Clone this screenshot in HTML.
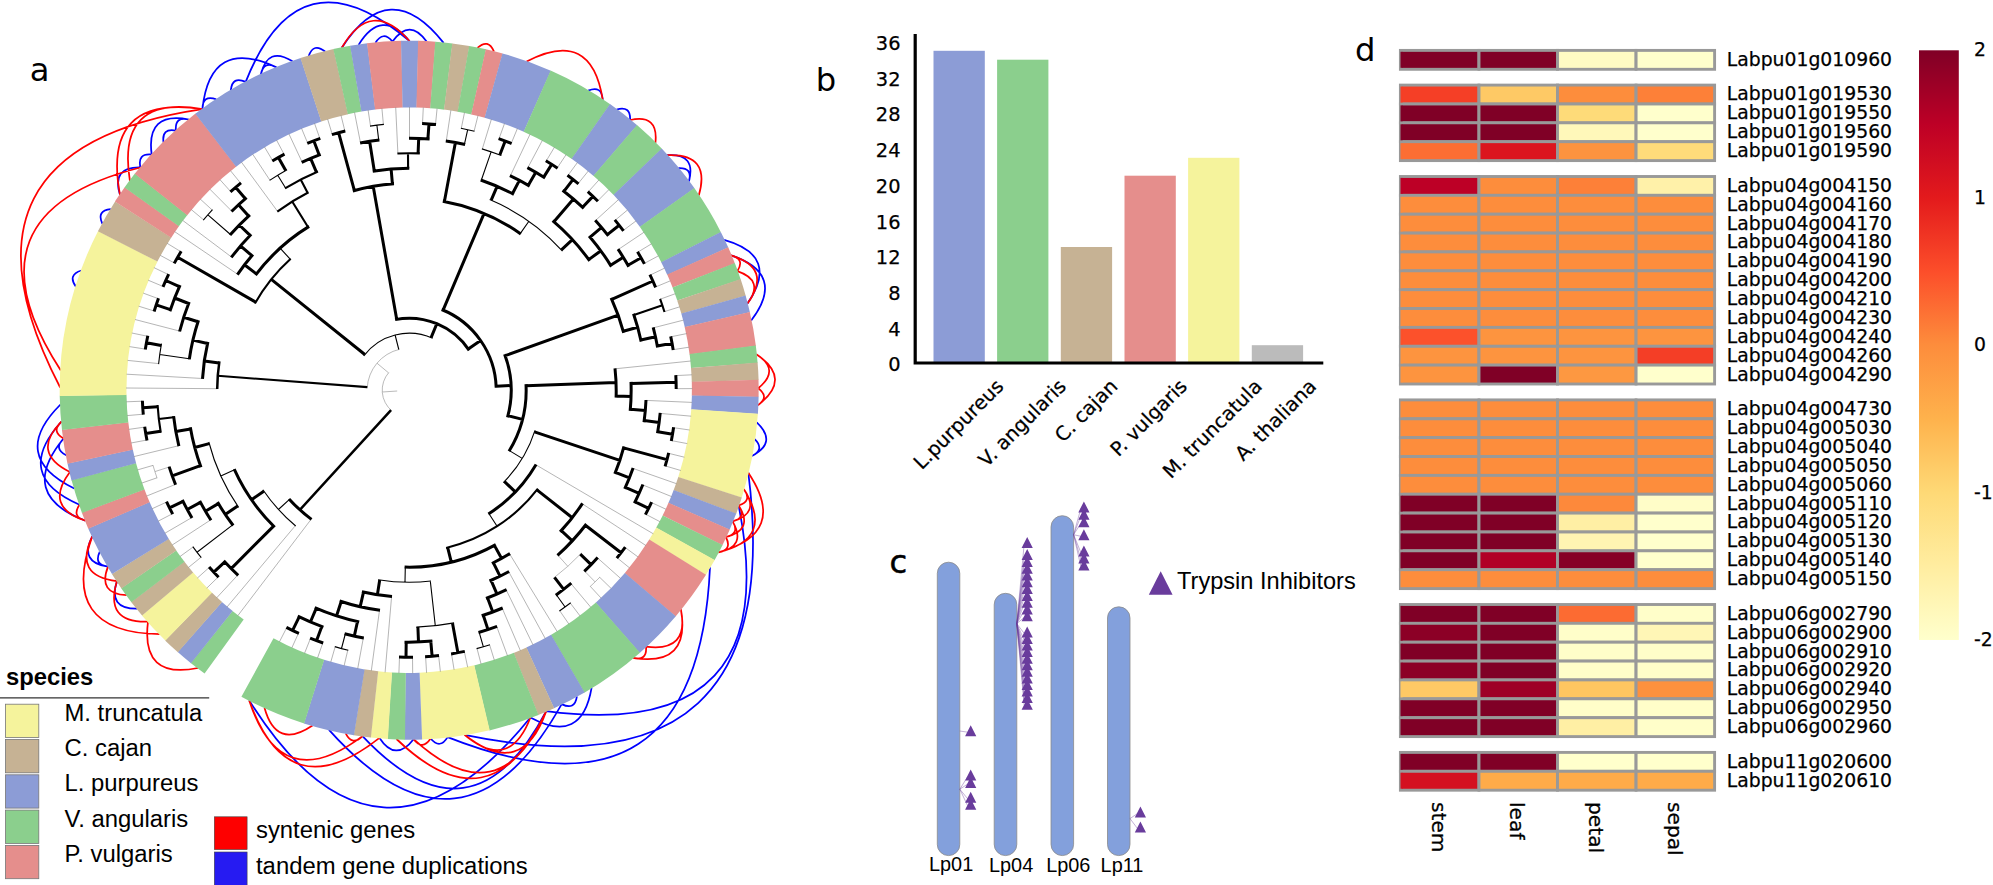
<!DOCTYPE html>
<html lang="en"><head><meta charset="utf-8"><title>Figure</title>
<style>
html,body{margin:0;padding:0;background:#fff;}
body{width:1993px;height:885px;overflow:hidden;}
svg{display:block;}
text{white-space:pre;}
</style></head><body>
<svg width="1993" height="885" viewBox="0 0 1993 885">
<rect width="1993" height="885" fill="#fff"/>
<g fill="none" stroke-width="1.75" stroke-linecap="butt">
<path d="M137.1 608.7Q107.7 608.9 117 581.1M108 566.6Q79 562.5 92.3 536.3M108 566.6Q93.5 564.9 99.8 551.7M60.5 404.5Q8.6 456.2 74.3 488.5M61.6 421.5Q12.3 475.7 79.5 504.7M63.6 438.5Q17 495 85.5 520.7M63.6 438.5Q53.2 448.8 66.3 455.3M75.9 286.7Q67.3 274.8 81.4 270.5M102.4 223.9Q96.2 210.6 110.8 209.1M120 194.8Q111.2 166.8 140.5 167.5M140.5 167.5Q137.1 153.2 151.7 154.6M151.7 154.6Q145.7 111.1 188.9 119.5M163.5 142.3Q161.5 127.8 175.9 130.6M175.9 130.6Q174.6 116 188.9 119.5M202.4 109.1Q202.5 94.4 216.3 99.3M202.4 109.1Q210.3 36.3 276.5 67.4M230.8 90.2Q232.4 75.7 245.7 81.9M245.7 81.9Q299.1 -53.2 409.6 41.2M260.9 74.3Q263.9 59.9 276.5 67.4M260.9 74.3Q267.6 45.7 292.5 61.3M308.7 56Q313.7 42.2 325.1 51.5M341.8 47.8Q389.3 -26 443.6 42.9M358.6 44.9Q381.5 7.3 409.6 41.2M375.5 42.8Q383.1 30.3 392.5 41.6M392.5 41.6Q409.6 17.7 426.6 41.6M588.2 90.6Q601.8 85.1 602.7 99.7M616.6 109.5Q630.7 105.3 630.1 120M667.2 155.2Q696.5 153.1 688.9 181.5M678.4 168.1Q693 167.4 688.9 181.5M724.1 239.8Q780.6 255.6 747.3 303.8M731.1 255.4Q786.7 273.9 751.2 320.5M756.7 422.3Q778 442.5 751.9 456M754.7 439.2Q765.1 449.6 751.9 456M748.3 472.7Q789.9 802.4 464.5 734.8M738.6 505.4Q786.5 743 546.2 711.2M710 567.2Q697.7 835.8 447.6 737.1M591.6 687.7Q581.9 745.5 530.4 717.5M576.9 696.3Q574.8 710.8 561.7 704.1M530.4 717.5Q377.8 905.8 249.2 700.4M561.7 704.1Q463.4 879.9 329 729.9M546.2 711.2Q471.8 852.2 362.5 736.1M413.6 739.2Q395.6 762.4 379.5 737.9M447.6 737.1Q440.1 749.7 430.6 738.5" stroke="#0000ff"/>
<path d="M198 668Q140.6 679.8 148 621.7M159.7 634.2Q57.5 632.5 92.3 536.3M148 621.7Q104.1 623.1 117 581.1M126.7 595.1Q97.4 593.9 108 566.6M117 581.1Q73.3 576 92.3 536.3M61.6 421.5Q30.5 452.6 69.9 472M61.6 421.5Q50.7 431.4 63.6 438.5M69.9 472Q43.6 507.3 85.5 520.7M79.5 504.7Q71.3 516.9 85.5 520.7M60.2 387.5Q-63.6 148.8 202.4 109.1M60.8 370.4Q-41.4 213.1 140.5 167.5M202.4 109.1Q101.2 94.3 120 194.8M202.4 109.1Q115.9 94.3 129.9 180.9M341.8 47.8Q371.1 -3 409.6 41.2M477.4 47.9Q488.3 38.1 494 51.7M526.6 61.6Q591.4 27.4 602.7 99.7M630.1 120Q658.7 113.7 655.4 142.8M667.2 155.2Q711.1 153.2 698.8 195.4M731.1 255.4Q773.2 268.2 747.3 303.8M731.1 255.4Q745.3 259 737.3 271.2M737.3 271.2Q765.1 280.5 747.3 303.8M756.3 354.2Q792.9 378.6 757.9 405.3M756.3 354.2Q781.1 369.9 758.2 388.2M758.2 388.2Q770 397 757.9 405.3M748.3 472.7Q789 533.5 718.3 552.3M743.9 489.2Q775.3 538.7 718.3 552.3M743.9 489.2Q760.8 513.2 732.6 521.4M738.6 505.4Q754.3 530.2 725.8 537M732.6 521.4Q747.1 546.9 718.3 552.3M743.9 489.2Q752.6 501 738.6 505.4M738.6 505.4Q746.8 517.6 732.6 521.4M732.6 521.4Q740.2 533.9 725.8 537M725.8 537Q732.7 549.9 718.3 552.3M680.9 609.3Q689.6 652.4 646 646.6M680.9 609.3Q691 667 633.2 657.9M646 646.6Q647.4 661.2 633.2 657.9M464.5 734.8Q509.5 772.3 530.4 717.5M464.5 734.8Q521.9 780.2 546.2 711.2M413.6 739.2Q499.5 818 546.2 711.2M396.5 739Q490.8 829.9 546.2 711.2M430.6 738.5Q422.5 750.8 413.6 739.2M249.2 700.4Q288 810.3 379.5 737.9M249.2 700.4Q280.9 797.5 362.5 736.1M264.5 707.8Q276.1 750.2 312.5 725.5M362.5 736.1Q352.2 746.5 345.7 733.4" stroke="#ff0000"/>
</g>
<path d="M204.6 673.5A349.5 349.5 0 0 1 190.7 663L232.5 610.9A282.7 282.7 0 0 0 243.7 619.4Z" fill="#8bcf8d"/>
<path d="M191 663.2A349.5 349.5 0 0 1 177.7 652L221.9 602A282.7 282.7 0 0 0 232.7 611Z" fill="#8c9cd6"/>
<path d="M177.9 652.2A349.5 349.5 0 0 1 165.1 640.4L211.8 592.6A282.7 282.7 0 0 0 222.1 602.1Z" fill="#c6b294"/>
<path d="M165.4 640.6A349.5 349.5 0 0 1 141.9 615.4L193 572.3A282.7 282.7 0 0 0 212 592.7Z" fill="#f5f39c"/>
<path d="M142.1 615.6A349.5 349.5 0 0 1 131.2 602L184.3 561.5A282.7 282.7 0 0 0 193.1 572.5Z" fill="#c6b294"/>
<path d="M131.4 602.3A349.5 349.5 0 0 1 121.2 588.2L176.2 550.4A282.7 282.7 0 0 0 184.5 561.7Z" fill="#8bcf8d"/>
<path d="M121.4 588.4A349.5 349.5 0 0 1 111.9 573.9L168.7 538.8A282.7 282.7 0 0 0 176.4 550.6Z" fill="#c6b294"/>
<path d="M112 574.1A349.5 349.5 0 0 1 88.2 528.5L149.6 502A282.7 282.7 0 0 0 168.8 539Z" fill="#8c9cd6"/>
<path d="M88.3 528.8A349.5 349.5 0 0 1 81.8 512.6L144.4 489.2A282.7 282.7 0 0 0 149.7 502.3Z" fill="#e58e8c"/>
<path d="M82 512.9A349.5 349.5 0 0 1 71.5 480.1L136 462.9A282.7 282.7 0 0 0 144.5 489.5Z" fill="#8bcf8d"/>
<path d="M71.5 480.4A349.5 349.5 0 0 1 67.5 463.5L132.8 449.5A282.7 282.7 0 0 0 136.1 463.2Z" fill="#8c9cd6"/>
<path d="M67.5 463.8A349.5 349.5 0 0 1 61.9 429.8L128.3 422.2A282.7 282.7 0 0 0 132.8 449.7Z" fill="#e58e8c"/>
<path d="M62 430.1A349.5 349.5 0 0 1 59.7 395.7L126.5 394.7A282.7 282.7 0 0 0 128.3 422.5Z" fill="#8bcf8d"/>
<path d="M59.7 396A349.5 349.5 0 0 1 98.1 231L157.5 261.4A282.7 282.7 0 0 0 126.5 394.9Z" fill="#f5f39c"/>
<path d="M97.9 231.3A349.5 349.5 0 0 1 115.1 201.4L171.3 237.5A282.7 282.7 0 0 0 157.4 261.6Z" fill="#c6b294"/>
<path d="M114.9 201.6A349.5 349.5 0 0 1 124.7 187.2L179.1 226A282.7 282.7 0 0 0 171.2 237.7Z" fill="#e58e8c"/>
<path d="M124.5 187.5A349.5 349.5 0 0 1 134.9 173.6L187.4 215A282.7 282.7 0 0 0 178.9 226.2Z" fill="#8bcf8d"/>
<path d="M134.7 173.8A349.5 349.5 0 0 1 195.5 113.6L236.3 166.5A282.7 282.7 0 0 0 187.2 215.2Z" fill="#e58e8c"/>
<path d="M195.3 113.8A349.5 349.5 0 0 1 300.7 58L321.4 121.5A282.7 282.7 0 0 0 236.1 166.7Z" fill="#8c9cd6"/>
<path d="M300.4 58.1A349.5 349.5 0 0 1 333.6 49L348.1 114.2A282.7 282.7 0 0 0 321.2 121.6Z" fill="#c6b294"/>
<path d="M333.3 49A349.5 349.5 0 0 1 350.4 45.7L361.6 111.5A282.7 282.7 0 0 0 347.8 114.2Z" fill="#8bcf8d"/>
<path d="M350.1 45.7A349.5 349.5 0 0 1 367.3 43.2L375.3 109.5A282.7 282.7 0 0 0 361.4 111.6Z" fill="#8c9cd6"/>
<path d="M367 43.3A349.5 349.5 0 0 1 401.3 40.8L402.8 107.6A282.7 282.7 0 0 0 375 109.6Z" fill="#e58e8c"/>
<path d="M401 40.8A349.5 349.5 0 0 1 418.4 40.8L416.7 107.6A282.7 282.7 0 0 0 402.6 107.6Z" fill="#8c9cd6"/>
<path d="M418.1 40.8A349.5 349.5 0 0 1 435.5 41.7L430.5 108.3A282.7 282.7 0 0 0 416.4 107.6Z" fill="#e58e8c"/>
<path d="M435.2 41.7A349.5 349.5 0 0 1 452.5 43.4L444.2 109.7A282.7 282.7 0 0 0 430.2 108.3Z" fill="#8bcf8d"/>
<path d="M452.2 43.4A349.5 349.5 0 0 1 469.4 45.9L457.9 111.7A282.7 282.7 0 0 0 444 109.6Z" fill="#c6b294"/>
<path d="M469.1 45.9A349.5 349.5 0 0 1 486.1 49.3L471.4 114.4A282.7 282.7 0 0 0 457.6 111.7Z" fill="#8bcf8d"/>
<path d="M485.8 49.2A349.5 349.5 0 0 1 502.7 53.4L484.8 117.8A282.7 282.7 0 0 0 471.2 114.4Z" fill="#e58e8c"/>
<path d="M502.4 53.4A349.5 349.5 0 0 1 550.9 70.7L523.8 131.8A282.7 282.7 0 0 0 484.6 117.7Z" fill="#8c9cd6"/>
<path d="M550.6 70.6A349.5 349.5 0 0 1 610.2 104.3L571.8 159A282.7 282.7 0 0 0 523.6 131.7Z" fill="#8bcf8d"/>
<path d="M610 104.1A349.5 349.5 0 0 1 637.2 125.3L593.6 175.9A282.7 282.7 0 0 0 571.6 158.8Z" fill="#8c9cd6"/>
<path d="M637 125.1A349.5 349.5 0 0 1 661.9 148.8L613.6 194.9A282.7 282.7 0 0 0 593.4 175.8Z" fill="#8bcf8d"/>
<path d="M661.7 148.6A349.5 349.5 0 0 1 694.5 188.3L640 226.9A282.7 282.7 0 0 0 613.5 194.8Z" fill="#8c9cd6"/>
<path d="M694.3 188.1A349.5 349.5 0 0 1 720.9 232.2L661.4 262.4A282.7 282.7 0 0 0 639.8 226.7Z" fill="#8bcf8d"/>
<path d="M720.8 231.9A349.5 349.5 0 0 1 728.3 247.6L667.3 274.9A282.7 282.7 0 0 0 661.2 262.2Z" fill="#8c9cd6"/>
<path d="M728.2 247.3A349.5 349.5 0 0 1 734.9 263.4L672.6 287.6A282.7 282.7 0 0 0 667.2 274.6Z" fill="#e58e8c"/>
<path d="M734.8 263.1A349.5 349.5 0 0 1 740.7 279.4L677.3 300.6A282.7 282.7 0 0 0 672.5 287.4Z" fill="#8bcf8d"/>
<path d="M740.6 279.1A349.5 349.5 0 0 1 745.7 295.7L681.4 313.8A282.7 282.7 0 0 0 677.2 300.4Z" fill="#c6b294"/>
<path d="M745.6 295.5A349.5 349.5 0 0 1 749.9 312.3L684.8 327.2A282.7 282.7 0 0 0 681.3 313.6Z" fill="#8c9cd6"/>
<path d="M749.8 312A349.5 349.5 0 0 1 755.9 345.9L689.6 354.4A282.7 282.7 0 0 0 684.7 326.9Z" fill="#e58e8c"/>
<path d="M755.8 345.6A349.5 349.5 0 0 1 757.6 362.9L691 368.1A282.7 282.7 0 0 0 689.6 354.1Z" fill="#8bcf8d"/>
<path d="M757.6 362.6A349.5 349.5 0 0 1 758.6 380L691.8 381.9A282.7 282.7 0 0 0 691 367.9Z" fill="#c6b294"/>
<path d="M758.5 379.7A349.5 349.5 0 0 1 758.6 397.1L691.8 395.7A282.7 282.7 0 0 0 691.8 381.7Z" fill="#e58e8c"/>
<path d="M758.6 396.7A349.5 349.5 0 0 1 757.9 414.1L691.2 409.5A282.7 282.7 0 0 0 691.9 395.5Z" fill="#8c9cd6"/>
<path d="M757.9 413.8A349.5 349.5 0 0 1 741.7 497.8L678.2 477.2A282.7 282.7 0 0 0 691.3 409.3Z" fill="#f5f39c"/>
<path d="M741.8 497.5A349.5 349.5 0 0 1 736.1 513.9L673.6 490.2A282.7 282.7 0 0 0 678.3 477Z" fill="#c6b294"/>
<path d="M736.2 513.6A349.5 349.5 0 0 1 729.6 529.7L668.4 503A282.7 282.7 0 0 0 673.7 490Z" fill="#8c9cd6"/>
<path d="M729.8 529.4A349.5 349.5 0 0 1 722.4 545.2L662.6 515.6A282.7 282.7 0 0 0 668.5 502.8Z" fill="#e58e8c"/>
<path d="M722.6 544.9A349.5 349.5 0 0 1 714.5 560.3L656.1 527.8A282.7 282.7 0 0 0 662.7 515.4Z" fill="#8bcf8d"/>
<path d="M714.7 560.1A349.5 349.5 0 0 1 705.8 575L649.1 539.7A282.7 282.7 0 0 0 656.3 527.6Z" fill="#f5f39c"/>
<path d="M706 574.8A349.5 349.5 0 0 1 675.6 616.4L624.7 573.2A282.7 282.7 0 0 0 649.3 539.5Z" fill="#e58e8c"/>
<path d="M675.8 616.2A349.5 349.5 0 0 1 639.7 652.9L595.7 602.7A282.7 282.7 0 0 0 624.9 573Z" fill="#8c9cd6"/>
<path d="M640 652.7A349.5 349.5 0 0 1 584.3 692.7L550.8 634.9A282.7 282.7 0 0 0 595.9 602.5Z" fill="#8bcf8d"/>
<path d="M584.6 692.5A349.5 349.5 0 0 1 554 708.3L526.3 647.5A282.7 282.7 0 0 0 551.1 634.7Z" fill="#8c9cd6"/>
<path d="M554.2 708.2A349.5 349.5 0 0 1 538.2 715L513.6 652.9A282.7 282.7 0 0 0 526.5 647.4Z" fill="#c6b294"/>
<path d="M538.5 714.9A349.5 349.5 0 0 1 489.4 730.4L474.1 665.4A282.7 282.7 0 0 0 513.8 652.8Z" fill="#8bcf8d"/>
<path d="M489.7 730.3A349.5 349.5 0 0 1 421.8 739.5L419.4 672.7A282.7 282.7 0 0 0 474.3 665.3Z" fill="#f5f39c"/>
<path d="M422.1 739.5A349.5 349.5 0 0 1 404.7 739.7L405.6 672.9A282.7 282.7 0 0 0 419.6 672.7Z" fill="#8c9cd6"/>
<path d="M405 739.7A349.5 349.5 0 0 1 387.6 739L391.8 672.4A282.7 282.7 0 0 0 405.8 672.9Z" fill="#8bcf8d"/>
<path d="M387.9 739.1A349.5 349.5 0 0 1 370.6 737.6L378 671.2A282.7 282.7 0 0 0 392 672.4Z" fill="#f5f39c"/>
<path d="M370.9 737.6A349.5 349.5 0 0 1 353.7 735.3L364.3 669.3A282.7 282.7 0 0 0 378.2 671.2Z" fill="#c6b294"/>
<path d="M354 735.3A349.5 349.5 0 0 1 303.9 723.5L324 659.8A282.7 282.7 0 0 0 364.6 669.4Z" fill="#8c9cd6"/>
<path d="M304.2 723.5A349.5 349.5 0 0 1 241.4 696.8L273.5 638.2A282.7 282.7 0 0 0 324.2 659.8Z" fill="#8bcf8d"/>
<g fill="none" stroke-linecap="butt">
<path d="M311.2 519.2L237.8 615.7M295.3 525.7L227 607M237.8 575L216.6 597.9M218.3 576.9L206.7 588.2M209.4 567.3L197.3 578.1M201 557.3L188.4 567.5M193.1 547L180 556.5M210.8 519.8L172.1 545.1M191.8 517.6L164.8 533.3M172.5 513.7L158.1 521.2M166.7 502L152 508.8M175.5 484.4L146.5 496.1M157 477.8L141.7 483.1M153 465.4L137.5 469.9M178.8 445.7L133.9 456.6M146.9 440L131 443M144.8 427.1L128.7 429.4M143.3 414.2L127.1 415.6M142.4 401.2L126.2 401.8M217.2 388.7L126 388M202.5 378.5L126.5 374.2M158.6 363.6L127.6 360.4M145.4 349.1L129.4 346.6M147.7 336.3L131.8 333M179.7 331.1L135 319.5M154.2 311L138.7 306.2M158.4 298.7L143.2 293.1M163.2 286.5L148.2 280.2M168.5 274.6L153.9 267.6M174.4 263L160.2 255.3M180.9 251.7L167.1 243.3M237.7 274.3L174.6 231.6M231.6 257.1L182.6 220.3M203.6 219.8L191.2 209.5M212.2 210L200.2 199M231.8 211.2L209.8 189.1M230.7 191.6L219.9 179.6M240.6 183.1L230.4 170.6M277.6 211.4L241.4 162.1M269.9 180.2L252.7 154.2M272.7 160.7L264.4 146.8M284.1 154.3L276.5 140M302.1 162.1L288.9 133.8M307.7 143.2L301.5 128.3M319.9 138.6L314.5 123.3M332.3 134.5L327.6 119M344.9 131.1L341 115.3M360.5 142.9L354.5 112.3M370.5 126L368.1 110M383.4 124.4L381.9 108.3M397.9 153.5L395.7 107.3M409.5 138.2L409.5 107M422.5 123.5L423.3 107.4M435.5 124.5L437.1 108.4M446.3 140.9L450.9 110.1M461.3 128.3L464.5 112.5M474.1 131.2L478 115.5M482.3 149L491.4 119.2M499 138.8L504.5 123.5M511.2 143.5L517.4 128.5M510.3 175.9L530.1 134.1M527.8 167.8L542.4 140.3M546.2 161L554.5 147.1M557.2 168L566.2 154.5M567.9 175.5L577.5 162.4M578.2 183.5L588.4 170.9M588.1 192L598.9 180M597.6 201L609 189.5M595.5 220.5L618.6 199.5M615.1 220.3L627.6 209.9M623.2 230.5L636.2 220.8M618.3 249.5L644.2 232.1M637.7 252.2L651.6 243.8M644.2 263.5L658.5 255.8M650.1 275.1L664.7 268.1M655.5 287L670.4 280.8M660.2 299.2L675.4 293.7M664.4 311.6L679.8 306.8M653.4 327.8L683.6 320.1M670.8 336.8L686.7 333.6M673.1 349.7L689.1 347.2M615.1 368.8L690.9 361M675.8 375.6L692 374.8M676.2 388.7L692.4 388.6M646 400.4L692.1 402.4M660.1 413.4L691.2 416.2M673.6 427.7L689.6 430M671.4 440.6L687.3 443.6M668.6 453.3L684.4 457.2M665.2 465.9L680.8 470.5M632.9 468.4L676.5 483.7M642.7 484.9L671.6 496.6M651.4 502.5L666.1 509.3M645.6 514.2L660 521.7M535.9 464.8L653.3 533.8M582.3 503.8L646 545.6M625 547.4L638.1 557M617.1 557.8L629.7 568M597.4 557.8L620.7 578.5M599.7 577.3L611.3 588.6M590.3 586.4L601.3 598.3M570.9 583.5L590.9 607.4M570.3 603.1L580.1 616M559.7 610.7L568.9 624.1M509.6 553.9L557.2 631.6M508.7 571.7L545.3 638.6M506.2 589.9L533 644.9M502.2 608.2L520.4 650.7M496.7 626.5L507.5 655.8M489.6 644.8L494.4 660.3M477 648.4L481.1 664.1M464.3 651.4L467.7 667.3M451.5 653.8L454.1 669.8M438.6 655.6L440.4 671.7M425.6 656.7L426.6 672.9M412.5 657.2L412.7 673.4M399.5 657L398.9 673.2M391.6 596.4L385.1 672.4M379.5 610.2L371.3 670.9M363.3 638L357.7 668.7M347.8 650.1L344.1 665.8M335.2 646.7L330.7 662.3M322.8 642.8L317.5 658.1M310.5 638.3L304.5 653.4M298.5 633.2L291.8 647.9M286.8 627.5L279.4 641.9" stroke="#8c8c8c" stroke-width="0.65"/>
<path d="M397.2 391L382.3 392M392 411A27 27 0 0 1 388.8 372.5M169.2 467L154.9 471.6M157.1 478.2A267 267 0 0 1 152.9 465M388.5 372.8L377 363.2M367.2 388.2A42 42 0 0 1 399.5 349.3M557.8 555.1L567.8 566.3M581.5 553A237 237 0 0 1 553.2 578.4M584.6 571.1L595.1 581.9M600 577A267 267 0 0 1 590 586.7" stroke="#8c8c8c" stroke-width="0.6"/>
<path d="M289.5 499.4L278.4 509.5M295.7 526A177 177 0 0 1 262.9 489.8M234.5 469.8L220.8 476M238.6 507.4A207 207 0 0 1 208.8 442M232.7 524.9L197 552.2M201.3 557.7A267 267 0 0 1 192.8 546.6M189.4 358.7L159.7 354.5M158.6 364.1A252 252 0 0 1 161.5 343.7M398.8 349.5L395.1 335M363.8 355.8A57 57 0 0 1 432.6 338.2M290.2 259.2L280.1 248.1M230.5 234.5L207.9 214.8M203.3 220.2A267 267 0 0 1 212.5 209.6M285.6 188L277.7 175.2M269.6 180.4A252 252 0 0 1 287.1 169.7M378.7 140L376.9 125.2M370 126.1A267 267 0 0 1 383.9 124.4M464.4 144.3L467.7 129.7M460.9 128.3A267 267 0 0 1 474.5 131.3M520.2 233.6L528.9 221.3M489.7 199.5A207 207 0 0 1 562.5 251.1M481.3 180.2L491.1 151.9M481.9 148.9A252 252 0 0 1 501.3 155.6M509.4 450.6L522.2 458.4M535 430.3A132 132 0 0 1 503.3 482.7M489 513.7L497.1 526.3M556.3 594.8L565.1 607M570.7 602.8A267 267 0 0 1 559.4 611M479.2 632.3L483.3 646.7M490 644.7A267 267 0 0 1 476.6 648.6M405.3 567.2L405 582.2M431 581A192 192 0 0 1 378.1 579.7M430.3 581L435.3 625.8M454.1 622.9A237 237 0 0 1 416.3 627.1M345.3 634L341.5 648.5M348.3 650.2A267 267 0 0 1 334.8 646.6" stroke="#000" stroke-width="1.1"/>
<path d="M173.7 417.2L158.8 419M160.8 432.8A252 252 0 0 1 157.6 405M367.3 387.1L217.7 375.8M254.9 303.5A177 177 0 0 1 290.7 258.7M308 227L292.2 201.5M277.3 211.7A222 222 0 0 1 308.6 192.3M307.6 192.8L300.7 179.5M285 188.4A237 237 0 0 1 318 171.5M408.1 168.2L408 153.2M397.4 153.5A237 237 0 0 1 419.8 153.4M633.9 314.9L662.4 305.3M660.1 298.8A267 267 0 0 1 664.5 312M537.9 488.6A162 162 0 0 1 446.1 547.9" stroke="#000" stroke-width="2.1"/>
<path d="M391 410.1L299.9 509.8M217.2 389.1A192 192 0 0 1 219.4 361.4" stroke="#000" stroke-width="2.5"/>
<path d="M311.5 519.4A162 162 0 0 1 289 498.9M263.8 491.2L251.5 499.7M274.7 527.3A192 192 0 0 1 234.2 469.2M273.6 526.1L231.2 568.6M238.2 575.3A252 252 0 0 1 223.7 560.7M224.8 561.9L213.8 572.2M218.6 577.2A267 267 0 0 1 209.1 567M237.7 506L225.2 514.4M233.2 525.5A222 222 0 0 1 217.5 502.1M218.3 503.6L205.4 511.2M211 520.2A237 237 0 0 1 199.7 500.9M200.4 502.4L187.2 509.5M192 517.9A252 252 0 0 1 182.3 499.8M183 501.3L169.5 507.9M172.7 514.1A267 267 0 0 1 166.5 501.6M209.2 443.6L194.7 447.5M201 467.2A222 222 0 0 1 190.3 427.3M200.4 465.6L172.2 475.8M175.6 484.8A252 252 0 0 1 169.1 466.6M190.6 429L175.8 431.6M178.9 446.2A237 237 0 0 1 173.6 416.1M160.6 431.2L145.8 433.6M147 440.5A267 267 0 0 1 144.7 426.7M157.7 406.7L142.8 407.7M143.3 414.6A267 267 0 0 1 142.4 400.7M219.1 363L204.3 360.9M202.5 378.9A207 207 0 0 1 207.9 341.9M207.5 343.5L192.9 340.1M189.3 359.4A222 222 0 0 1 198.5 320.2M161.2 345.4L146.5 342.7M145.3 349.6A267 267 0 0 1 147.8 335.8M198 321.8L183.7 317.2M179.6 331.5A237 237 0 0 1 189.2 302M188.6 303.5L174.7 298M169.9 311.2A252 252 0 0 1 180.1 285.2M170.4 309.6L156.2 304.8M154.1 311.5A267 267 0 0 1 158.5 298.2M179.4 286.7L165.8 280.5M163 286.9A267 267 0 0 1 168.7 274.2M364.8 354.5L271.3 279.3M255.7 302.1L177.6 257.3M174.2 263.4A267 267 0 0 1 181.2 251.3M255.5 275.2A192 192 0 0 1 309.1 226.4M256.4 273.9L244.5 264.8M237.4 274.7A207 207 0 0 1 252.9 254.4M251.9 255.7L240.5 245.9M231.3 257.4A222 222 0 0 1 251.2 234.2M250.1 235.4L239.3 225M230 235.1A237 237 0 0 1 249.9 214.8M248.6 215.9L238.5 204.8M231.5 211.5A252 252 0 0 1 246.6 197.6M245.4 198.7L235.6 187.3M230.4 191.9A267 267 0 0 1 241 182.8M285.7 170.5L278.4 157.5M272.3 161A267 267 0 0 1 284.5 154.1M316.4 172.1L310.6 158.3M301.7 162.3A252 252 0 0 1 320.7 154.3M319.1 154.8L313.8 140.8M307.3 143.4A267 267 0 0 1 320.3 138.4M431.1 337.6L436.8 323.7M395.1 319.6A72 72 0 0 1 469.2 350.4M396.7 319.3L373.2 186.3M352.8 191A207 207 0 0 1 394 183.8M354.4 190.6L338.6 132.7M331.9 134.6A267 267 0 0 1 345.3 131M392.4 183.9L391.1 168.9M372.7 171.2A222 222 0 0 1 409.3 168.2M374.3 171L369.6 141.3M360.1 143A252 252 0 0 1 379.4 140M418.1 153.4L418.7 138.4M409 138.2A252 252 0 0 1 429.6 139M427.9 138.9L429 123.9M422.1 123.5A267 267 0 0 1 436 124.5M468.3 349.1L480.6 340.5M441.6 309.5A87 87 0 0 1 496.2 387.8M443.1 310.1L484.1 213.4M442.8 201.2A192 192 0 0 1 520.8 234M444.4 201.5L455.4 142.5M445.8 140.9A252 252 0 0 1 465.1 144.5M491.2 200.1L497.1 186.4M480.7 180A222 222 0 0 1 513.9 194.4M499.8 155L505.2 141M498.6 138.6A267 267 0 0 1 511.6 143.6M512.4 193.7L519.4 180.4M509.9 175.7A237 237 0 0 1 529.7 186.1M528.3 185.3L535.8 172.3M527.4 167.6A252 252 0 0 1 545.1 178M543.7 177.1L551.7 164.4M545.8 160.8A267 267 0 0 1 557.6 168.2M561.4 249.9L572.4 239.7M552.6 220.7A222 222 0 0 1 589.7 260.9M553.9 221.8L573.4 199.1M562.6 190.2A252 252 0 0 1 583.8 208.4M563.9 191.3L573.1 179.4M567.5 175.2A267 267 0 0 1 578.5 183.8M582.6 207.3L592.9 196.4M587.8 191.7A267 267 0 0 1 597.9 201.3M588.7 259.6L600.9 250.8M589.1 235.9A237 237 0 0 1 611.4 266.6M590.1 237.1L601.6 227.4M595.2 220.2A252 252 0 0 1 608.4 235.9M607.4 234.6L619.2 225.3M614.8 219.9A267 267 0 0 1 623.5 230.9M610.6 265.2L623.3 257.3M618 249.2A252 252 0 0 1 628.8 266.7M628 265.2L641.1 257.8M637.5 251.8A267 267 0 0 1 644.4 263.9M496.1 386.2L511.1 385.5M504.6 354.2A102 102 0 0 1 507.5 417.3M505.2 355.7L618.1 315.2M611.1 297.9A222 222 0 0 1 623.7 332.9M611.8 299.4L652.9 281M649.9 274.7A267 267 0 0 1 655.6 287.4M623.3 331.3L637.7 327.3M633.5 313.7A237 237 0 0 1 641.2 341.6M640.8 340L655.5 336.8M653.2 327.4A252 252 0 0 1 657.6 347.5M657.3 345.9L672 343.2M670.7 336.4A267 267 0 0 1 673.2 350.1M508 415.7L522.5 419.4M526 384.1A117 117 0 0 1 509 451.2M526.1 385.8L616.1 382.4M615 368.4A207 207 0 0 1 616.1 397.6M616.1 396L631.1 396.4M631 381.9A222 222 0 0 1 630.2 410.9M631.1 383.5L676.1 382.2M675.8 375.2A267 267 0 0 1 676.2 389.1M630.4 409.3L645.3 410.5M646 400A237 237 0 0 1 644 422.3M644.2 420.6L659.1 422.5M660.2 412.9A252 252 0 0 1 657.5 433.3M657.8 431.7L672.6 434.2M673.6 427.3A267 267 0 0 1 671.3 441M534.5 431.9L619.8 460.3M624 446.3A222 222 0 0 1 614.8 473.9M623.6 447.9L667 459.6M668.7 452.9A267 267 0 0 1 665.1 466.4M615.4 472.4L629.4 477.9M633.1 468A237 237 0 0 1 624.7 488.8M625.4 487.3L639.1 493.4M642.9 484.5A252 252 0 0 1 634.4 503.2M635.2 501.8L648.6 508.4M651.6 502.1A267 267 0 0 1 645.4 514.6M504.5 481.6L515.3 491.9M536.1 464.4A147 147 0 0 1 488.4 514M536.9 489.9L572.3 517.7M582.5 503.4A207 207 0 0 1 560.1 531.9M561.3 530.7L572.3 540.8M586.4 524A222 222 0 0 1 557.5 555.4M585.4 525.3L621.1 552.7M625.3 547.1A267 267 0 0 1 616.8 558.1M580.3 554.2L591.1 564.6M597.7 557.4A252 252 0 0 1 584.3 571.4M554.5 577.4L563.7 589.3M571.3 583.2A252 252 0 0 1 555.8 595.2M447.7 547.6L451.3 562.1M495.8 544.6A177 177 0 0 1 404.6 567.1M494.4 545.4L501.6 558.5M510 553.6A192 192 0 0 1 491.9 563.5M493.4 562.8L500 576.2M509.1 571.5A207 207 0 0 1 489.5 581M491.1 580.3L497 594.1M506.6 589.7A222 222 0 0 1 486 598.5M487.6 597.9L492.8 611.9M502.7 608A237 237 0 0 1 481.7 615.8M483.3 615.3L488 629.6M497.1 626.4A252 252 0 0 1 478.5 632.5M452.5 623.2L457.9 652.7M464.8 651.4A267 267 0 0 1 451.1 653.9M417.9 627L418.5 642M432.4 641.1A252 252 0 0 1 404.5 642.2M430.8 641.3L432.1 656.2M439 655.5A267 267 0 0 1 425.1 656.7M406.2 642.2L406 657.2M413 657.2A267 267 0 0 1 399 657M379.7 579.9L377.4 594.7M392 596.5A207 207 0 0 1 361.9 591.7M363.5 592.1L360.2 606.7M380 610.3A222 222 0 0 1 339.6 601M341.2 601.5L336.6 615.8M359.2 621.9A237 237 0 0 1 314.7 607.6M357.5 621.5L354.3 636.1M363.8 638.1A252 252 0 0 1 344.6 633.8M316.3 608.2L310.4 622M323.4 627.1A252 252 0 0 1 297.7 616.2M321.8 626.6L316.6 640.6M323.2 643A267 267 0 0 1 310.1 638.1M299.2 616.9L292.6 630.4M298.9 633.4A267 267 0 0 1 286.4 627.3" stroke="#000" stroke-width="3.0"/>
</g>
<text x="6" y="684.7" font-family="'Liberation Sans','DejaVu Sans',sans-serif" font-size="23.8" font-weight="bold">species</text>
<path d="M0 697.9H209.2" stroke="#333" stroke-width="1.1"/>
<g font-family="'Liberation Sans','DejaVu Sans',sans-serif" font-size="23.85" fill="#000">
<rect x="5.5" y="704.2" width="33.3" height="33.3" fill="#f5f39c" stroke="#777" stroke-width="0.8"/>
<text x="64.5" y="720.7">M. truncatula</text>
<rect x="5.5" y="739.5" width="33.3" height="33.3" fill="#c6b294" stroke="#777" stroke-width="0.8"/>
<text x="64.5" y="756.1">C. cajan</text>
<rect x="5.5" y="774.8" width="33.3" height="33.3" fill="#8c9cd6" stroke="#777" stroke-width="0.8"/>
<text x="64.5" y="791.4">L. purpureus</text>
<rect x="5.5" y="810.1" width="33.3" height="33.3" fill="#8bcf8d" stroke="#777" stroke-width="0.8"/>
<text x="64.5" y="826.8">V. angularis</text>
<rect x="5.5" y="845.4" width="33.3" height="33.3" fill="#e58e8c" stroke="#777" stroke-width="0.8"/>
<text x="64.5" y="862.1">P. vulgaris</text>
<rect x="214.3" y="816.8" width="32.8" height="32.8" fill="#fe0000" stroke="#444" stroke-width="0.6"/>
<rect x="214.3" y="852" width="32.8" height="33.5" fill="#261bf2" stroke="#444" stroke-width="0.6"/>
<text x="256" y="838.3">syntenic genes</text>
<text x="256" y="874.1">tandem gene duplications</text>
</g>
<text x="29.8" y="81.1" font-family="'DejaVu Sans','Liberation Sans',sans-serif" font-size="32.2">a</text>
<rect x="933.5" y="50.8" width="51.3" height="312.2" fill="#8c9cd6"/>
<rect x="997.1" y="59.7" width="51.3" height="303.3" fill="#8bcf8d"/>
<rect x="1060.8" y="247" width="51.3" height="116" fill="#c6b294"/>
<rect x="1124.5" y="175.7" width="51.3" height="187.3" fill="#e58e8c"/>
<rect x="1188.1" y="157.8" width="51.3" height="205.2" fill="#f5f39c"/>
<rect x="1251.8" y="345.2" width="51.3" height="17.8" fill="#bbbbbb"/>
<path d="M915.2 34V363H1323.3" fill="none" stroke="#000" stroke-width="3.2"/>
<g font-family="'DejaVu Sans','Liberation Sans',sans-serif" font-size="19.4" fill="#000" text-anchor="end" stroke="#000" stroke-width="0.25">
<text x="900.5" y="371.2">0</text>
<text x="900.5" y="335.5">4</text>
<text x="900.5" y="299.8">8</text>
<text x="900.5" y="264.2">12</text>
<text x="900.5" y="228.5">16</text>
<text x="900.5" y="192.8">20</text>
<text x="900.5" y="157.1">24</text>
<text x="900.5" y="121.4">28</text>
<text x="900.5" y="85.8">32</text>
<text x="900.5" y="50.1">36</text>
</g>
<g font-family="'DejaVu Sans','Liberation Sans',sans-serif" font-size="19.6" fill="#000" text-anchor="end" stroke="#000" stroke-width="0.25">
<text transform="translate(1004.7,387.5) rotate(-45)">L.purpureus</text>
<text transform="translate(1067.2,387.5) rotate(-45)">V. angularis</text>
<text transform="translate(1118.7,387.5) rotate(-45)">C. cajan</text>
<text transform="translate(1188.3,387.5) rotate(-45)">P. vulgaris</text>
<text transform="translate(1263.2,387.5) rotate(-45)">M. truncatula</text>
<text transform="translate(1317.5,387.5) rotate(-45)">A. thaliana</text>
</g>
<text x="815.8" y="90.8" font-family="'DejaVu Sans','Liberation Sans',sans-serif" font-size="32.2">b</text>
<rect x="937.3" y="562.2" width="22.5" height="293.4" rx="11.2" fill="#83a0dc" stroke="#8a8a8a" stroke-width="0.8"/>
<rect x="994.2" y="593.3" width="22.6" height="262.3" rx="11.3" fill="#83a0dc" stroke="#8a8a8a" stroke-width="0.8"/>
<rect x="1051" y="515.7" width="22.6" height="339.9" rx="11.3" fill="#83a0dc" stroke="#8a8a8a" stroke-width="0.8"/>
<rect x="1107.5" y="606.8" width="22.5" height="248.8" rx="11.2" fill="#83a0dc" stroke="#8a8a8a" stroke-width="0.8"/>
<path d="M959.8 731L967.7 732.2M959.8 789.2L967.7 776.6M959.8 789.2L967.7 784M959.8 789.2L967.7 798.8M959.8 789.2L967.7 805.8M1016.8 623.7L1024.2 543.9M1016.8 623.7L1024.2 556.1M1016.8 623.7L1024.2 562.9M1016.8 623.7L1024.2 569.7M1016.8 623.7L1024.2 576.5M1016.8 623.7L1024.2 583.3M1016.8 623.7L1024.2 590.1M1016.8 623.7L1024.2 596.9M1016.8 623.7L1024.2 603.7M1016.8 623.7L1024.2 610.5M1016.8 623.7L1024.2 617.3M1016.8 623.7L1024.2 633.4M1016.8 623.7L1024.2 640M1016.8 623.7L1024.2 646.5M1016.8 623.7L1024.2 653.1M1016.8 623.7L1024.2 659.7M1016.8 623.7L1024.2 666.2M1016.8 623.7L1024.2 672.8M1016.8 623.7L1024.2 679.4M1016.8 623.7L1024.2 686M1016.8 623.7L1024.2 692.5M1016.8 623.7L1024.2 699.1M1016.8 623.7L1024.2 705.7M1073.6 534.7L1080.9 508.4M1073.6 534.7L1080.9 515.8M1073.6 534.7L1080.9 523.3M1073.6 534.7L1080.9 536.3M1073.6 534.7L1080.9 552.6M1073.6 534.7L1080.9 559.5M1073.6 534.7L1080.9 566.5M1130 818.6L1137.4 813.6M1130 818.6L1137.4 828.4" stroke="#693c9c" stroke-width="0.5" fill="none" opacity="0.8"/>
<path d="M970.7 725.2L976.3 736.2H965.1ZM970.7 769.6L976.3 780.6H965.1ZM970.7 777L976.3 788H965.1ZM970.7 791.8L976.3 802.8H965.1ZM970.7 798.8L976.3 809.8H965.1ZM1027.2 536.9L1032.8 547.9H1021.6ZM1027.2 549.1L1032.8 560.1H1021.6ZM1027.2 555.9L1032.8 566.9H1021.6ZM1027.2 562.7L1032.8 573.7H1021.6ZM1027.2 569.5L1032.8 580.5H1021.6ZM1027.2 576.3L1032.8 587.3H1021.6ZM1027.2 583.1L1032.8 594.1H1021.6ZM1027.2 589.9L1032.8 600.9H1021.6ZM1027.2 596.7L1032.8 607.7H1021.6ZM1027.2 603.5L1032.8 614.5H1021.6ZM1027.2 610.3L1032.8 621.3H1021.6ZM1027.2 626.4L1032.8 637.4H1021.6ZM1027.2 633L1032.8 644H1021.6ZM1027.2 639.5L1032.8 650.5H1021.6ZM1027.2 646.1L1032.8 657.1H1021.6ZM1027.2 652.7L1032.8 663.7H1021.6ZM1027.2 659.2L1032.8 670.2H1021.6ZM1027.2 665.8L1032.8 676.8H1021.6ZM1027.2 672.4L1032.8 683.4H1021.6ZM1027.2 679L1032.8 690H1021.6ZM1027.2 685.5L1032.8 696.5H1021.6ZM1027.2 692.1L1032.8 703.1H1021.6ZM1027.2 698.7L1032.8 709.7H1021.6ZM1083.9 501.4L1089.5 512.4H1078.3ZM1083.9 508.8L1089.5 519.8H1078.3ZM1083.9 516.3L1089.5 527.3H1078.3ZM1083.9 529.3L1089.5 540.3H1078.3ZM1083.9 545.6L1089.5 556.6H1078.3ZM1083.9 552.5L1089.5 563.5H1078.3ZM1083.9 559.5L1089.5 570.5H1078.3ZM1140.4 806.6L1146 817.6H1134.8ZM1140.4 821.4L1146 832.4H1134.8Z" fill="#693c9c"/>
<path d="M1160.7 571.2L1172.6 594.8H1148.8Z" fill="#693c9c"/>
<text x="1177" y="589" font-family="'Liberation Sans','DejaVu Sans',sans-serif" font-size="23.6">Trypsin Inhibitors</text>
<g font-family="'Liberation Sans','DejaVu Sans',sans-serif" font-size="19.9" fill="#000">
<text x="929" y="871.1">Lp01</text>
<text x="989" y="872.2">Lp04</text>
<text x="1046.2" y="871.9">Lp06</text>
<text x="1100.6" y="871.5">Lp11</text>
</g>
<text x="889.5" y="573.1" font-family="'DejaVu Sans','Liberation Sans',sans-serif" font-size="32.2" stroke="#000" stroke-width="0.5">c</text>
<g id="heat" stroke="#999" stroke-width="2.9">
<rect x="1400.4" y="50.4" width="78.5" height="18.9" fill="#800026"/>
<rect x="1479" y="50.4" width="78.5" height="18.9" fill="#800026"/>
<rect x="1557.5" y="50.4" width="78.5" height="18.9" fill="#fffbc3"/>
<rect x="1636.1" y="50.4" width="78.5" height="18.9" fill="#ffffcc"/>
<rect x="1400.4" y="85.1" width="78.5" height="18.9" fill="#f53f26"/>
<rect x="1479" y="85.1" width="78.5" height="18.9" fill="#fec965"/>
<rect x="1557.5" y="85.1" width="78.5" height="18.9" fill="#fd8d3c"/>
<rect x="1636.1" y="85.1" width="78.5" height="18.9" fill="#fd8038"/>
<rect x="1400.4" y="104" width="78.5" height="18.9" fill="#800026"/>
<rect x="1479" y="104" width="78.5" height="18.9" fill="#800026"/>
<rect x="1557.5" y="104" width="78.5" height="18.9" fill="#fedb79"/>
<rect x="1636.1" y="104" width="78.5" height="18.9" fill="#ffffcc"/>
<rect x="1400.4" y="122.8" width="78.5" height="18.9" fill="#800026"/>
<rect x="1479" y="122.8" width="78.5" height="18.9" fill="#800026"/>
<rect x="1557.5" y="122.8" width="78.5" height="18.9" fill="#fff8ba"/>
<rect x="1636.1" y="122.8" width="78.5" height="18.9" fill="#ffffcc"/>
<rect x="1400.4" y="141.7" width="78.5" height="18.9" fill="#fc6e33"/>
<rect x="1479" y="141.7" width="78.5" height="18.9" fill="#db151e"/>
<rect x="1557.5" y="141.7" width="78.5" height="18.9" fill="#fd933f"/>
<rect x="1636.1" y="141.7" width="78.5" height="18.9" fill="#fedb7a"/>
<rect x="1400.4" y="176.5" width="78.5" height="18.9" fill="#bd0026"/>
<rect x="1479" y="176.5" width="78.5" height="18.9" fill="#fd8d3c"/>
<rect x="1557.5" y="176.5" width="78.5" height="18.9" fill="#fd8038"/>
<rect x="1636.1" y="176.5" width="78.5" height="18.9" fill="#fff1a9"/>
<rect x="1400.4" y="195.3" width="78.5" height="18.9" fill="#fd8d3c"/>
<rect x="1479" y="195.3" width="78.5" height="18.9" fill="#fd8d3c"/>
<rect x="1557.5" y="195.3" width="78.5" height="18.9" fill="#fd8d3c"/>
<rect x="1636.1" y="195.3" width="78.5" height="18.9" fill="#fd8d3c"/>
<rect x="1400.4" y="214.2" width="78.5" height="18.9" fill="#fd8d3c"/>
<rect x="1479" y="214.2" width="78.5" height="18.9" fill="#fd8d3c"/>
<rect x="1557.5" y="214.2" width="78.5" height="18.9" fill="#fd8d3c"/>
<rect x="1636.1" y="214.2" width="78.5" height="18.9" fill="#fd8d3c"/>
<rect x="1400.4" y="233.1" width="78.5" height="18.9" fill="#fd8d3c"/>
<rect x="1479" y="233.1" width="78.5" height="18.9" fill="#fd8d3c"/>
<rect x="1557.5" y="233.1" width="78.5" height="18.9" fill="#fd8d3c"/>
<rect x="1636.1" y="233.1" width="78.5" height="18.9" fill="#fd8d3c"/>
<rect x="1400.4" y="251.9" width="78.5" height="18.9" fill="#fd8d3c"/>
<rect x="1479" y="251.9" width="78.5" height="18.9" fill="#fd8d3c"/>
<rect x="1557.5" y="251.9" width="78.5" height="18.9" fill="#fd8d3c"/>
<rect x="1636.1" y="251.9" width="78.5" height="18.9" fill="#fd8d3c"/>
<rect x="1400.4" y="270.8" width="78.5" height="18.9" fill="#fd8d3c"/>
<rect x="1479" y="270.8" width="78.5" height="18.9" fill="#fd8d3c"/>
<rect x="1557.5" y="270.8" width="78.5" height="18.9" fill="#fd8d3c"/>
<rect x="1636.1" y="270.8" width="78.5" height="18.9" fill="#fd8d3c"/>
<rect x="1400.4" y="289.7" width="78.5" height="18.9" fill="#fd8d3c"/>
<rect x="1479" y="289.7" width="78.5" height="18.9" fill="#fd8d3c"/>
<rect x="1557.5" y="289.7" width="78.5" height="18.9" fill="#fd8d3c"/>
<rect x="1636.1" y="289.7" width="78.5" height="18.9" fill="#fd8d3c"/>
<rect x="1400.4" y="308.5" width="78.5" height="18.9" fill="#fd8d3c"/>
<rect x="1479" y="308.5" width="78.5" height="18.9" fill="#fd8d3c"/>
<rect x="1557.5" y="308.5" width="78.5" height="18.9" fill="#fd8d3c"/>
<rect x="1636.1" y="308.5" width="78.5" height="18.9" fill="#fd8d3c"/>
<rect x="1400.4" y="327.4" width="78.5" height="18.9" fill="#fc512b"/>
<rect x="1479" y="327.4" width="78.5" height="18.9" fill="#fd943f"/>
<rect x="1557.5" y="327.4" width="78.5" height="18.9" fill="#fd943f"/>
<rect x="1636.1" y="327.4" width="78.5" height="18.9" fill="#fd943f"/>
<rect x="1400.4" y="346.3" width="78.5" height="18.9" fill="#fd943f"/>
<rect x="1479" y="346.3" width="78.5" height="18.9" fill="#fd943f"/>
<rect x="1557.5" y="346.3" width="78.5" height="18.9" fill="#fd943f"/>
<rect x="1636.1" y="346.3" width="78.5" height="18.9" fill="#f43e26"/>
<rect x="1400.4" y="365.1" width="78.5" height="18.9" fill="#fd943f"/>
<rect x="1479" y="365.1" width="78.5" height="18.9" fill="#800026"/>
<rect x="1557.5" y="365.1" width="78.5" height="18.9" fill="#fd9841"/>
<rect x="1636.1" y="365.1" width="78.5" height="18.9" fill="#ffffcc"/>
<rect x="1400.4" y="399.9" width="78.5" height="18.9" fill="#fd8d3c"/>
<rect x="1479" y="399.9" width="78.5" height="18.9" fill="#fd8d3c"/>
<rect x="1557.5" y="399.9" width="78.5" height="18.9" fill="#fd8d3c"/>
<rect x="1636.1" y="399.9" width="78.5" height="18.9" fill="#fd8d3c"/>
<rect x="1400.4" y="418.8" width="78.5" height="18.9" fill="#fd8d3c"/>
<rect x="1479" y="418.8" width="78.5" height="18.9" fill="#fd8d3c"/>
<rect x="1557.5" y="418.8" width="78.5" height="18.9" fill="#fd8d3c"/>
<rect x="1636.1" y="418.8" width="78.5" height="18.9" fill="#fd8d3c"/>
<rect x="1400.4" y="437.6" width="78.5" height="18.9" fill="#fd8d3c"/>
<rect x="1479" y="437.6" width="78.5" height="18.9" fill="#fd8d3c"/>
<rect x="1557.5" y="437.6" width="78.5" height="18.9" fill="#fd8d3c"/>
<rect x="1636.1" y="437.6" width="78.5" height="18.9" fill="#fd8d3c"/>
<rect x="1400.4" y="456.5" width="78.5" height="18.9" fill="#fd8d3c"/>
<rect x="1479" y="456.5" width="78.5" height="18.9" fill="#fd8d3c"/>
<rect x="1557.5" y="456.5" width="78.5" height="18.9" fill="#fd8d3c"/>
<rect x="1636.1" y="456.5" width="78.5" height="18.9" fill="#fd8d3c"/>
<rect x="1400.4" y="475.4" width="78.5" height="18.9" fill="#fd8d3c"/>
<rect x="1479" y="475.4" width="78.5" height="18.9" fill="#fd8d3c"/>
<rect x="1557.5" y="475.4" width="78.5" height="18.9" fill="#fd8d3c"/>
<rect x="1636.1" y="475.4" width="78.5" height="18.9" fill="#fd8d3c"/>
<rect x="1400.4" y="494.2" width="78.5" height="18.9" fill="#800026"/>
<rect x="1479" y="494.2" width="78.5" height="18.9" fill="#800026"/>
<rect x="1557.5" y="494.2" width="78.5" height="18.9" fill="#fd893b"/>
<rect x="1636.1" y="494.2" width="78.5" height="18.9" fill="#fffdc8"/>
<rect x="1400.4" y="513.1" width="78.5" height="18.9" fill="#800026"/>
<rect x="1479" y="513.1" width="78.5" height="18.9" fill="#800026"/>
<rect x="1557.5" y="513.1" width="78.5" height="18.9" fill="#ffefa4"/>
<rect x="1636.1" y="513.1" width="78.5" height="18.9" fill="#ffffcc"/>
<rect x="1400.4" y="532" width="78.5" height="18.9" fill="#800026"/>
<rect x="1479" y="532" width="78.5" height="18.9" fill="#800026"/>
<rect x="1557.5" y="532" width="78.5" height="18.9" fill="#fff4b2"/>
<rect x="1636.1" y="532" width="78.5" height="18.9" fill="#ffffcc"/>
<rect x="1400.4" y="550.8" width="78.5" height="18.9" fill="#800026"/>
<rect x="1479" y="550.8" width="78.5" height="18.9" fill="#b10026"/>
<rect x="1557.5" y="550.8" width="78.5" height="18.9" fill="#860026"/>
<rect x="1636.1" y="550.8" width="78.5" height="18.9" fill="#ffffcc"/>
<rect x="1400.4" y="569.7" width="78.5" height="18.9" fill="#fd8d3c"/>
<rect x="1479" y="569.7" width="78.5" height="18.9" fill="#fd8d3c"/>
<rect x="1557.5" y="569.7" width="78.5" height="18.9" fill="#fd8d3c"/>
<rect x="1636.1" y="569.7" width="78.5" height="18.9" fill="#fd8d3c"/>
<rect x="1400.4" y="604.5" width="78.5" height="18.9" fill="#800026"/>
<rect x="1479" y="604.5" width="78.5" height="18.9" fill="#800026"/>
<rect x="1557.5" y="604.5" width="78.5" height="18.9" fill="#fc6b32"/>
<rect x="1636.1" y="604.5" width="78.5" height="18.9" fill="#fffec9"/>
<rect x="1400.4" y="623.3" width="78.5" height="18.9" fill="#8c0026"/>
<rect x="1479" y="623.3" width="78.5" height="18.9" fill="#800026"/>
<rect x="1557.5" y="623.3" width="78.5" height="18.9" fill="#fffec9"/>
<rect x="1636.1" y="623.3" width="78.5" height="18.9" fill="#fff6b6"/>
<rect x="1400.4" y="642.2" width="78.5" height="18.9" fill="#800026"/>
<rect x="1479" y="642.2" width="78.5" height="18.9" fill="#800026"/>
<rect x="1557.5" y="642.2" width="78.5" height="18.9" fill="#fffec9"/>
<rect x="1636.1" y="642.2" width="78.5" height="18.9" fill="#fffec9"/>
<rect x="1400.4" y="661.1" width="78.5" height="18.9" fill="#8c0026"/>
<rect x="1479" y="661.1" width="78.5" height="18.9" fill="#800026"/>
<rect x="1557.5" y="661.1" width="78.5" height="18.9" fill="#fffec9"/>
<rect x="1636.1" y="661.1" width="78.5" height="18.9" fill="#fffec9"/>
<rect x="1400.4" y="679.9" width="78.5" height="18.9" fill="#fec965"/>
<rect x="1479" y="679.9" width="78.5" height="18.9" fill="#9e0026"/>
<rect x="1557.5" y="679.9" width="78.5" height="18.9" fill="#fec661"/>
<rect x="1636.1" y="679.9" width="78.5" height="18.9" fill="#fd913e"/>
<rect x="1400.4" y="698.8" width="78.5" height="18.9" fill="#800026"/>
<rect x="1479" y="698.8" width="78.5" height="18.9" fill="#800026"/>
<rect x="1557.5" y="698.8" width="78.5" height="18.9" fill="#fffec9"/>
<rect x="1636.1" y="698.8" width="78.5" height="18.9" fill="#fffec9"/>
<rect x="1400.4" y="717.7" width="78.5" height="18.9" fill="#800026"/>
<rect x="1479" y="717.7" width="78.5" height="18.9" fill="#800026"/>
<rect x="1557.5" y="717.7" width="78.5" height="18.9" fill="#ffefa4"/>
<rect x="1636.1" y="717.7" width="78.5" height="18.9" fill="#fffec9"/>
<rect x="1400.4" y="752.4" width="78.5" height="18.9" fill="#800026"/>
<rect x="1479" y="752.4" width="78.5" height="18.9" fill="#800026"/>
<rect x="1557.5" y="752.4" width="78.5" height="18.9" fill="#ffffcc"/>
<rect x="1636.1" y="752.4" width="78.5" height="18.9" fill="#ffffcc"/>
<rect x="1400.4" y="771.3" width="78.5" height="18.9" fill="#d41020"/>
<rect x="1479" y="771.3" width="78.5" height="18.9" fill="#feab49"/>
<rect x="1557.5" y="771.3" width="78.5" height="18.9" fill="#feab49"/>
<rect x="1636.1" y="771.3" width="78.5" height="18.9" fill="#feab49"/>
</g>
<rect x="1400.5" y="51.8" width="2" height="16" fill="#800026"/>
<rect x="1400.5" y="86.6" width="2" height="16" fill="#f53f26"/>
<rect x="1400.5" y="105.4" width="2" height="16" fill="#800026"/>
<rect x="1400.5" y="124.3" width="2" height="16" fill="#800026"/>
<rect x="1400.5" y="143.2" width="2" height="16" fill="#fc6e33"/>
<rect x="1400.5" y="177.9" width="2" height="16" fill="#bd0026"/>
<rect x="1400.5" y="196.8" width="2" height="16" fill="#fd8d3c"/>
<rect x="1400.5" y="215.7" width="2" height="16" fill="#fd8d3c"/>
<rect x="1400.5" y="234.5" width="2" height="16" fill="#fd8d3c"/>
<rect x="1400.5" y="253.4" width="2" height="16" fill="#fd8d3c"/>
<rect x="1400.5" y="272.3" width="2" height="16" fill="#fd8d3c"/>
<rect x="1400.5" y="291.1" width="2" height="16" fill="#fd8d3c"/>
<rect x="1400.5" y="310" width="2" height="16" fill="#fd8d3c"/>
<rect x="1400.5" y="328.9" width="2" height="16" fill="#fc512b"/>
<rect x="1400.5" y="347.7" width="2" height="16" fill="#fd943f"/>
<rect x="1400.5" y="366.6" width="2" height="16" fill="#fd943f"/>
<rect x="1400.5" y="401.4" width="2" height="16" fill="#fd8d3c"/>
<rect x="1400.5" y="420.2" width="2" height="16" fill="#fd8d3c"/>
<rect x="1400.5" y="439.1" width="2" height="16" fill="#fd8d3c"/>
<rect x="1400.5" y="458" width="2" height="16" fill="#fd8d3c"/>
<rect x="1400.5" y="476.8" width="2" height="16" fill="#fd8d3c"/>
<rect x="1400.5" y="495.7" width="2" height="16" fill="#800026"/>
<rect x="1400.5" y="514.6" width="2" height="16" fill="#800026"/>
<rect x="1400.5" y="533.4" width="2" height="16" fill="#800026"/>
<rect x="1400.5" y="552.3" width="2" height="16" fill="#800026"/>
<rect x="1400.5" y="571.2" width="2" height="16" fill="#fd8d3c"/>
<rect x="1400.5" y="605.9" width="2" height="16" fill="#800026"/>
<rect x="1400.5" y="624.8" width="2" height="16" fill="#8c0026"/>
<rect x="1400.5" y="643.6" width="2" height="16" fill="#800026"/>
<rect x="1400.5" y="662.5" width="2" height="16" fill="#8c0026"/>
<rect x="1400.5" y="681.4" width="2" height="16" fill="#fec965"/>
<rect x="1400.5" y="700.2" width="2" height="16" fill="#800026"/>
<rect x="1400.5" y="719.1" width="2" height="16" fill="#800026"/>
<rect x="1400.5" y="753.9" width="2" height="16" fill="#800026"/>
<rect x="1400.5" y="772.7" width="2" height="16" fill="#d41020"/>
<g font-family="'DejaVu Sans','Liberation Sans',sans-serif" font-size="18.8" fill="#000" stroke="#000" stroke-width="0.25">
<text x="1726.8" y="65.7">Labpu01g010960</text>
<text x="1726.8" y="100.4">Labpu01g019530</text>
<text x="1726.8" y="119.3">Labpu01g019550</text>
<text x="1726.8" y="138.2">Labpu01g019560</text>
<text x="1726.8" y="157">Labpu01g019590</text>
<text x="1726.8" y="191.8">Labpu04g004150</text>
<text x="1726.8" y="210.7">Labpu04g004160</text>
<text x="1726.8" y="229.5">Labpu04g004170</text>
<text x="1726.8" y="248.4">Labpu04g004180</text>
<text x="1726.8" y="267.3">Labpu04g004190</text>
<text x="1726.8" y="286.1">Labpu04g004200</text>
<text x="1726.8" y="305">Labpu04g004210</text>
<text x="1726.8" y="323.9">Labpu04g004230</text>
<text x="1726.8" y="342.7">Labpu04g004240</text>
<text x="1726.8" y="361.6">Labpu04g004260</text>
<text x="1726.8" y="380.5">Labpu04g004290</text>
<text x="1726.8" y="415.2">Labpu04g004730</text>
<text x="1726.8" y="434.1">Labpu04g005030</text>
<text x="1726.8" y="453">Labpu04g005040</text>
<text x="1726.8" y="471.8">Labpu04g005050</text>
<text x="1726.8" y="490.7">Labpu04g005060</text>
<text x="1726.8" y="509.6">Labpu04g005110</text>
<text x="1726.8" y="528.4">Labpu04g005120</text>
<text x="1726.8" y="547.3">Labpu04g005130</text>
<text x="1726.8" y="566.2">Labpu04g005140</text>
<text x="1726.8" y="585">Labpu04g005150</text>
<text x="1726.8" y="619.8">Labpu06g002790</text>
<text x="1726.8" y="638.7">Labpu06g002900</text>
<text x="1726.8" y="657.5">Labpu06g002910</text>
<text x="1726.8" y="676.4">Labpu06g002920</text>
<text x="1726.8" y="695.3">Labpu06g002940</text>
<text x="1726.8" y="714.1">Labpu06g002950</text>
<text x="1726.8" y="733">Labpu06g002960</text>
<text x="1726.8" y="767.8">Labpu11g020600</text>
<text x="1726.8" y="786.6">Labpu11g020610</text>
</g>
<g font-family="'DejaVu Sans','Liberation Sans',sans-serif" font-size="20.2" fill="#000" stroke="#000" stroke-width="0.25">
<text transform="translate(1431.9,802) rotate(90)">stem</text>
<text transform="translate(1510.4,802) rotate(90)">leaf</text>
<text transform="translate(1589,802) rotate(90)">petal</text>
<text transform="translate(1667.5,802) rotate(90)">sepal</text>
</g>
<defs><linearGradient id="cb" x1="0" y1="0" x2="0" y2="1">
<stop offset="0%" stop-color="#800026"/>
<stop offset="12.5%" stop-color="#bd0026"/>
<stop offset="25%" stop-color="#e31a1c"/>
<stop offset="37.5%" stop-color="#fc4e2a"/>
<stop offset="50%" stop-color="#fd8d3c"/>
<stop offset="62.5%" stop-color="#feb24c"/>
<stop offset="75%" stop-color="#fed976"/>
<stop offset="87.5%" stop-color="#ffeda0"/>
<stop offset="100%" stop-color="#ffffcc"/>
</linearGradient></defs>
<rect x="1919" y="50.3" width="39.8" height="589.7" fill="url(#cb)"/>
<g font-family="'DejaVu Sans','Liberation Sans',sans-serif" font-size="18.8" fill="#000" stroke="#000" stroke-width="0.25">
<text x="1974" y="56.3">2</text>
<text x="1974" y="203.7">1</text>
<text x="1974" y="351.1">0</text>
<text x="1974" y="498.5">-1</text>
<text x="1974" y="645.9">-2</text>
</g>
<text x="1355" y="61" font-family="'DejaVu Sans','Liberation Sans',sans-serif" font-size="32.2">d</text>
</svg>
</body></html>
